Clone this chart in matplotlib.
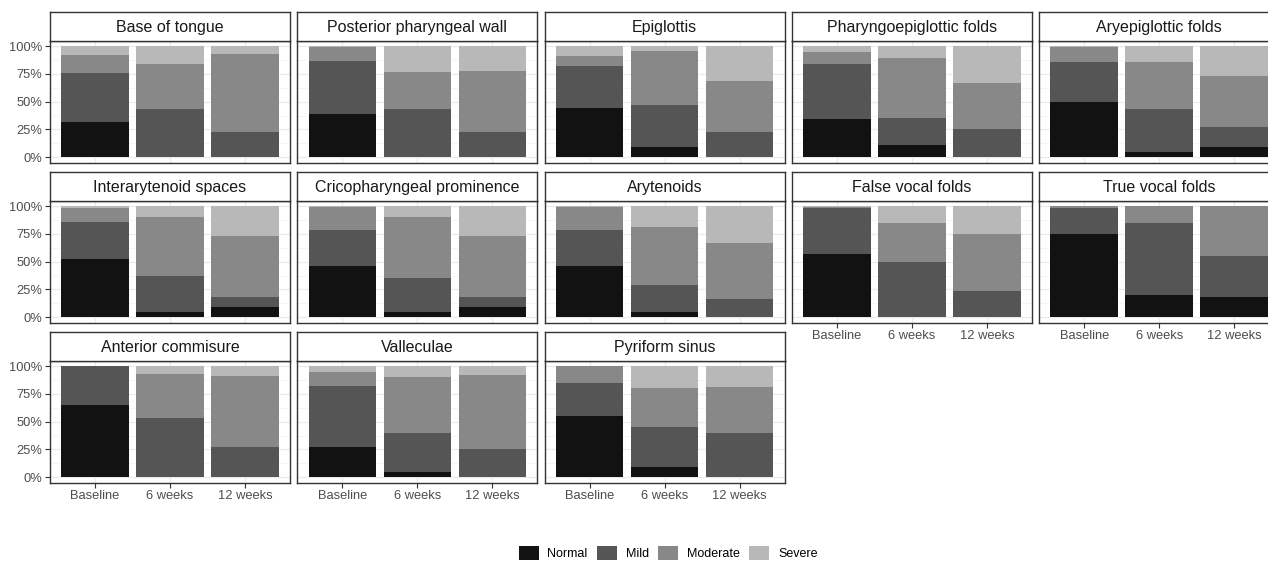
import matplotlib.pyplot as plt
from matplotlib.patches import Patch
from matplotlib.ticker import FixedLocator
import numpy as np

plt.rcParams['font.family'] = ['Liberation Sans', 'DejaVu Sans']

timepoints = ['Baseline', '6 weeks', '12 weeks']
severity = ['Normal', 'Mild', 'Moderate', 'Severe']
colors = ['#121212', '#555555', '#888888', '#b8b8b8']

regions = ['Base of tongue', 'Posterior pharyngeal wall', 'Epiglottis',
           'Pharyngoepiglottic folds', 'Aryepiglottic folds',
           'Interarytenoid spaces', 'Cricopharyngeal prominence', 'Arytenoids',
           'False vocal folds', 'True vocal folds',
           'Anterior commisure', 'Valleculae', 'Pyriform sinus']

# percent of patients per region, at Baseline / 6 weeks / 12 weeks
normal = [[32, 0, 0], [39, 0, 0], [44, 9, 0], [34, 11, 0], [50, 5, 9],
          [52, 5, 9], [46, 5, 9], [46, 5, 0], [57, 0, 0], [75, 20, 18],
          [65, 0, 0], [27, 5, 0], [55, 9, 0]]
mild = [[44, 43, 23], [48, 43, 23], [38, 38, 23], [50, 24, 25], [36, 38, 18],
        [34, 32, 9], [33, 30, 9], [33, 24, 16], [41, 50, 24], [23, 65, 37],
        [35, 53, 27], [55, 35, 25], [30, 36, 40]]
moderate = [[16, 41, 70], [12, 34, 55], [9, 49, 46], [11, 54, 42], [13, 43, 46],
            [12, 53, 55], [20, 55, 55], [20, 52, 51], [1, 35, 51], [2, 15, 45],
            [0, 40, 64], [13, 50, 67], [15, 35, 41]]
severe = [[8, 16, 7], [1, 23, 22], [9, 4, 31], [5, 11, 33], [1, 14, 27],
          [2, 10, 27], [1, 10, 27], [1, 19, 33], [1, 15, 25], [0, 0, 0],
          [0, 7, 9], [5, 10, 8], [0, 20, 19]]

W, H = 1268, 564
fig = plt.figure(figsize=(W / 100, H / 100), dpi=100)

left0, pitch_x, pw = 50, 247.3, 240
top0, pitch_y, strip_h, ph = 11.7, 160, 29, 122
ncol = 5
n = len(regions)
x = np.arange(len(timepoints))

for i, reg in enumerate(regions):
    row, col = divmod(i, ncol)
    l = (left0 + col * pitch_x) / W
    strip_top = top0 + row * pitch_y
    ax = fig.add_axes([l, 1 - (strip_top + strip_h + ph) / H, pw / W, ph / H])
    st = fig.add_axes([l, 1 - (strip_top + strip_h) / H, pw / W, strip_h / H])

    bottom = np.zeros(3)
    for vals, c in zip([normal[i], mild[i], moderate[i], severe[i]], colors):
        v = np.array(vals, dtype=float)
        ax.bar(x, v, bottom=bottom, width=0.9, color=c, zorder=2)
        bottom += v

    ax.set_xlim(-0.6, 2.6)
    ax.set_ylim(-5, 105)
    ax.set_xticks(x)
    ax.set_yticks([0, 25, 50, 75, 100])
    ax.yaxis.set_minor_locator(FixedLocator([12.5, 37.5, 62.5, 87.5]))
    ax.grid(True, which='major', color='#ebebeb', lw=0.9, zorder=0)
    ax.grid(True, which='minor', axis='y', color='#f2f2f2', lw=0.5, zorder=0)
    ax.set_axisbelow(True)
    for sp in ax.spines.values():
        sp.set_color('#333333')
        sp.set_linewidth(1.0)
    ax.tick_params(which='minor', length=0)
    ax.tick_params(which='major', length=3.5, width=0.8, color='#333333',
                   labelsize=9.3, labelcolor='#4d4d4d', pad=2)

    if col == 0:
        ax.set_yticklabels(['0%', '25%', '50%', '75%', '100%'])
    else:
        ax.tick_params(axis='y', length=0, labelleft=False)
    bottom_row = (i + ncol >= n)
    if bottom_row:
        ax.set_xticklabels(timepoints)
    else:
        ax.tick_params(axis='x', length=0, labelbottom=False)

    st.set_xticks([])
    st.set_yticks([])
    st.set_facecolor('white')
    for sp in st.spines.values():
        sp.set_color('#333333')
        sp.set_linewidth(1.0)
    st.text(0.5, 0.47, reg, ha='center', va='center', fontsize=11.5,
            color='#1a1a1a', transform=st.transAxes)

handles = [Patch(facecolor=c, edgecolor='none') for c in colors]
fig.legend(handles, severity, loc='center', bbox_to_anchor=(668 / W, 1 - 553 / H),
           ncol=4, frameon=False, fontsize=9, handlelength=1.6, handleheight=1.45,
           handletextpad=0.7, columnspacing=0.75, borderpad=0)

fig.savefig('out.png', dpi=100)
